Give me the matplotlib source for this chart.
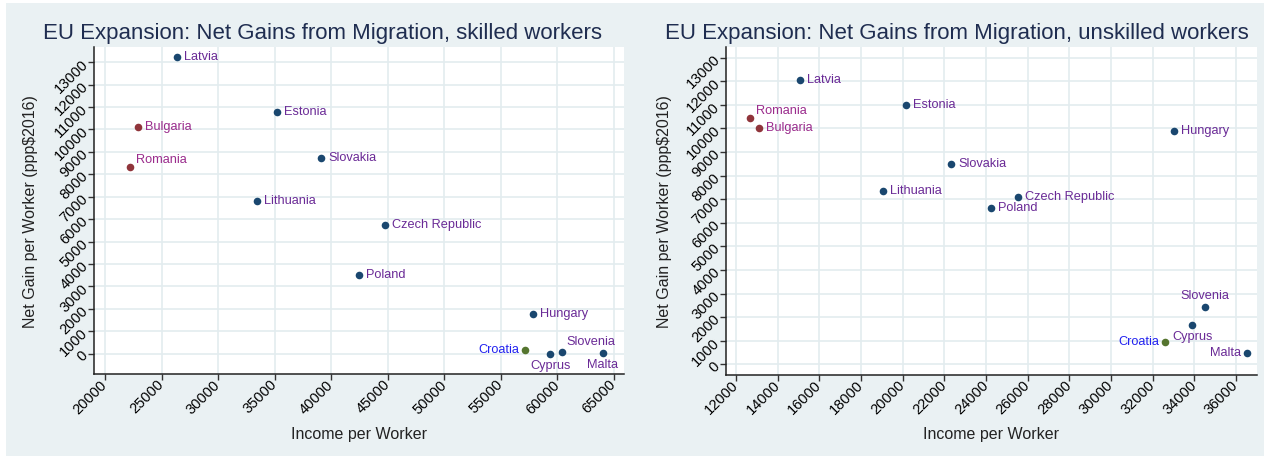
import matplotlib
matplotlib.use("Agg")
import matplotlib.pyplot as plt
from matplotlib.patches import Rectangle

plt.rcParams["font.family"] = ["Liberation Sans", "DejaVu Sans"]

# data
countries = ["Latvia", "Estonia", "Bulgaria", "Romania", "Slovakia", "Lithuania",
             "Czech Republic", "Poland", "Hungary", "Croatia", "Cyprus", "Slovenia", "Malta"]
entry_group = ["2004", "2004", "2007", "2007", "2004", "2004",
               "2004", "2004", "2004", "2013", "2004", "2004", "2004"]

skilled_income = [26350, 35250, 22920, 22210, 39120, 33410,
                  44730, 42450, 57830, 57170, 59370, 60420, 64000]
skilled_gain = [13240, 10790, 10100, 8320, 8710, 6790,
                5730, 3500, 1750, 180, 0, 75, 45]

unskilled_income = [15070, 20140, 13100, 12670, 22320, 19060,
                    25560, 24250, 33030, 32615, 33910, 34490, 36520]
unskilled_gain = [12050, 11000, 10000, 10450, 8500, 7330,
                  7100, 6620, 9900, 950, 1650, 2440, 480]

skilled_xticks = list(range(20000, 65001, 5000))
unskilled_xticks = list(range(12000, 36001, 2000))
gain_yticks = list(range(0, 13001, 1000))

# styling
W, H = 1270, 462
BG = "#EAF1F3"
GRID = "#E3ECEF"
TITLE_C = "#1F2D50"
marker_col = {"2004": "#1A476F", "2007": "#90353B", "2013": "#55752F"}
label_col = {"2004": "#6A2A96", "2007": "#9A2B8C", "2013": "#2222F0"}

# label placement (pixel offset, ha) ; default is right of the marker
skilled_lab = {"Romania": (6, 7, "left"), "Croatia": (-6, 0, "right"),
               "Cyprus": (0, -12, "center"), "Slovenia": (4, 10, "left"),
               "Malta": (0, -12, "center")}
unskilled_lab = {"Romania": (6, 7, "left"), "Croatia": (-6, 0, "right"),
                 "Cyprus": (0, -12, "center"), "Slovenia": (0, 11, "center"),
                 "Malta": (-6, 0, "right")}

fig = plt.figure(figsize=(W / 100, H / 100), dpi=100)
fig.patch.set_facecolor("white")
fig.patches.append(Rectangle((6 / W, 1 - 456 / H), (1264 - 6) / W, (456 - 3) / H,
                             transform=fig.transFigure, facecolor=BG,
                             edgecolor="none", zorder=-10))


def px_axes(x0, y0, x1, y1):
    return fig.add_axes([x0 / W, 1 - y1 / H, (x1 - x0) / W, (y1 - y0) / H])


def draw_panel(ax, xs, ys, xticks, xlim, ylim, placements):
    ax.set_facecolor("white")
    for c, x, y, g in zip(countries, xs, ys, entry_group):
        ax.scatter(x, y, s=30, color=marker_col[g], zorder=3, linewidths=0)
        dx, dy, ha = placements.get(c, (7, 0, "left"))
        ax.annotate(c, (x, y), xytext=(dx, dy), textcoords="offset pixels",
                    ha=ha, va="center", fontsize=9.2, color=label_col[g], zorder=4)
    ax.set_xticks(xticks)
    ax.set_yticks(gain_yticks)
    ax.set_xlim(*xlim)
    ax.set_ylim(*ylim)
    ax.grid(True, color=GRID, linewidth=1.2)
    ax.set_axisbelow(True)
    for side in ("top", "right"):
        ax.spines[side].set_visible(False)
    for side in ("left", "bottom"):
        ax.spines[side].set_color("#222222")
        ax.spines[side].set_linewidth(1.1)
    ax.tick_params(direction="out", length=4, width=1, color="#333333",
                   labelsize=10.5, pad=2)
    plt.setp(ax.get_yticklabels(), rotation=45, ha="right", va="center",
             rotation_mode="anchor")
    plt.setp(ax.get_xticklabels(), rotation=45, ha="right", va="center",
             rotation_mode="anchor")


ax1 = px_axes(94, 46.7, 624, 374.3)
draw_panel(ax1, skilled_income, skilled_gain, skilled_xticks,
           (19030, 65900), (-918, 13690), skilled_lab)

ax2 = px_axes(726, 46.7, 1257, 375)
draw_panel(ax2, unskilled_income, unskilled_gain, unskilled_xticks,
           (11520, 37010), (-453, 13460), unskilled_lab)

fig.text(322.7 / W, 1 - 39.5 / H, "EU Expansion: Net Gains from Migration, skilled workers",
         ha="center", va="baseline", fontsize=16, color=TITLE_C)
fig.text(957 / W, 1 - 39.5 / H, "EU Expansion: Net Gains from Migration, unskilled workers",
         ha="center", va="baseline", fontsize=16, color=TITLE_C)

for cx in (31, 665):
    fig.text(cx / W, 1 - 212 / H, "Net Gain per Worker (ppp$2016)", rotation=90,
             ha="center", va="center", fontsize=11.5, color="#222222")
for cx in (359, 991):
    fig.text(cx / W, 1 - 435 / H, "Income per Worker", ha="center", va="center",
             fontsize=11.5, color="#222222")

fig.savefig("out.png", dpi=100, facecolor=fig.get_facecolor())
